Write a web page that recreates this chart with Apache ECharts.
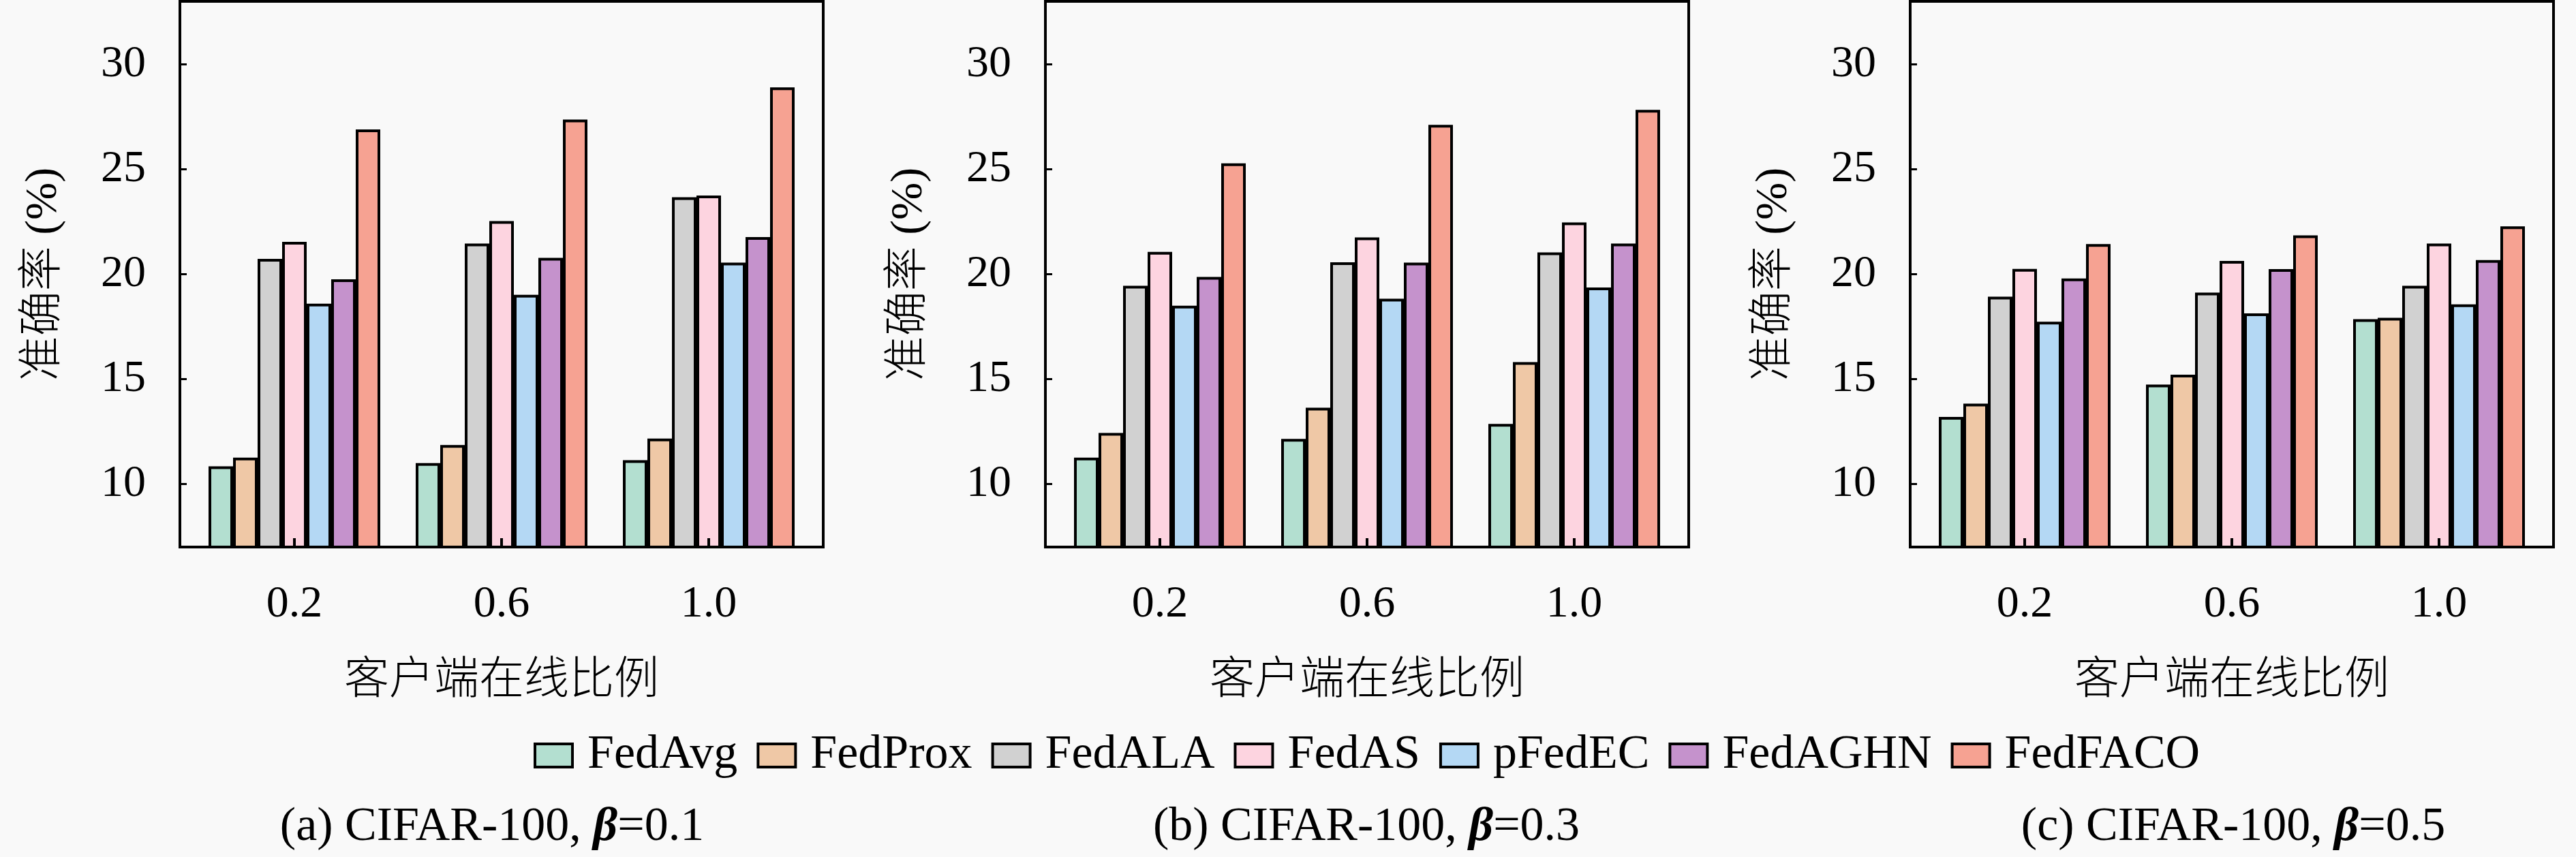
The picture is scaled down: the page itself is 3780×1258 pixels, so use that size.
<!DOCTYPE html>
<html>
<head>
<meta charset="utf-8">
<script src="https://cdn.jsdelivr.net/npm/echarts@6/dist/echarts.min.js"></script>
<style>
html,body{margin:0;padding:0;background:#f9f9f9;}
#chart{width:3780px;height:1258px;}
</style>
</head>
<body>
<div id="chart"></div>
<script>
// ---------- data ----------
const categories = ['0.2', '0.6', '1.0'];
const methods = ['FedAvg', 'FedProx', 'FedALA', 'FedAS', 'pFedEC', 'FedAGHN', 'FedFACO'];
const colors = ['#b3dfd0', '#efc8a6', '#d1d1d1', '#fdd4e0', '#b4d8f4', '#c592cc', '#f6a292'];
const yTicks = [10, 15, 20, 25, 30];
const yMin = 7, yMax = 33;

// (a) CIFAR-100, beta = 0.1
const a_FedAvg  = [10.85, 11.00, 11.14];
const a_FedProx = [11.26, 11.86, 12.17];
const a_FedALA  = [20.73, 21.46, 23.67];
const a_FedAS   = [21.54, 22.53, 23.75];
const a_pFedEC  = [18.60, 19.02, 20.55];
const a_FedAGHN = [19.76, 20.78, 21.77];
const a_FedFACO = [26.90, 27.37, 28.90];

// (b) CIFAR-100, beta = 0.3
const b_FedAvg  = [11.26, 12.15, 12.87];
const b_FedProx = [12.44, 13.64, 15.81];
const b_FedALA  = [19.45, 20.57, 21.04];
const b_FedAS   = [21.06, 21.75, 22.47];
const b_pFedEC  = [18.50, 18.83, 19.37];
const b_FedAGHN = [19.87, 20.55, 21.46];
const b_FedFACO = [25.28, 27.12, 27.83];

// (c) CIFAR-100, beta = 0.5
const c_FedAvg  = [13.20, 14.74, 17.86];
const c_FedProx = [13.83, 15.21, 17.92];
const c_FedALA  = [18.93, 19.12, 19.45];
const c_FedAS   = [20.25, 20.63, 21.46];
const c_pFedEC  = [17.74, 18.13, 18.56];
const c_FedAGHN = [19.80, 20.24, 20.67];
const c_FedFACO = [21.44, 21.85, 22.28];

const panelData = [
  [a_FedAvg, a_FedProx, a_FedALA, a_FedAS, a_pFedEC, a_FedAGHN, a_FedFACO],
  [b_FedAvg, b_FedProx, b_FedALA, b_FedAS, b_pFedEC, b_FedAGHN, b_FedFACO],
  [c_FedAvg, c_FedProx, c_FedALA, c_FedAS, c_pFedEC, c_FedAGHN, c_FedFACO]
];
const captionPrefix = ['(a) CIFAR-100, ', '(b) CIFAR-100, ', '(c) CIFAR-100, '];
const betaValues = ['0.1', '0.3', '0.5'];
const yName = '准确率 (%)';
const xName = '客户端在线比例';

// ---------- layout ----------
const frameLeft = [264, 1534, 2803];
const frameW = 944, frameTop = 2, frameH = 801;
const innerPad = 16;
const captionX = [722, 2005, 3277];
const serif = 'Liberation Serif';
const mixed = "'Liberation Serif', 'Noto Sans CJK SC'";

const grid = [], xAxis = [], yAxis = [], series = [], graphic = [];
for (let p = 0; p < 3; p++) {
  // frame grid
  grid.push({left: frameLeft[p], top: frameTop, width: frameW, height: frameH,
    show: true, borderColor: '#000', borderWidth: 4, backgroundColor: 'transparent', containLabel: false});
  // bar grid
  grid.push({left: frameLeft[p] + innerPad, top: frameTop, width: frameW - 2 * innerPad, height: frameH,
    show: false, containLabel: false});
  xAxis.push({type: 'value', gridIndex: 2 * p, show: false, min: 0, max: 1});
  yAxis.push({type: 'value', gridIndex: 2 * p, min: yMin, max: yMax,
    axisLine: {show: false},
    splitLine: {show: false},
    axisTick: {show: true, inside: true, length: 10, customValues: yTicks, lineStyle: {color: '#000', width: 3}},
    axisLabel: {show: true, customValues: yTicks, margin: 50, fontFamily: serif, fontSize: 66, color: '#000'},
    name: yName, nameLocation: 'middle', nameGap: 166,
    nameTextStyle: {fontFamily: mixed, fontSize: 66, color: '#000', fontWeight: 300}
  });
  xAxis.push({type: 'category', gridIndex: 2 * p + 1, data: categories, z: 10,
    axisLine: {show: false},
    axisTick: {show: true, inside: true, alignWithLabel: true, length: 13, lineStyle: {color: '#000', width: 4}},
    axisLabel: {margin: 52, fontFamily: serif, fontSize: 66, color: '#000'},
    name: xName, nameLocation: 'middle', nameGap: 165,
    nameTextStyle: {fontFamily: mixed, fontSize: 66, color: '#000', fontWeight: 300}
  });
  yAxis.push({type: 'value', gridIndex: 2 * p + 1, min: yMin, max: yMax, show: false});
  for (let m = 0; m < methods.length; m++) {
    series.push({
      type: 'bar', name: methods[m],
      xAxisIndex: 2 * p + 1, yAxisIndex: 2 * p + 1,
      data: panelData[p][m],
      barWidth: 36, barGap: '0%',
      itemStyle: {color: colors[m], borderColor: '#000', borderWidth: 4},
      emphasis: {disabled: true}, animation: false
    });
  }
  graphic.push({
    type: 'text', x: captionX[p], y: 1215,
    style: {
      text: captionPrefix[p] + '{b|β}=' + betaValues[p],
      fontFamily: serif, fontSize: 70, fill: '#000',
      align: 'center', verticalAlign: 'middle',
      rich: {b: {fontFamily: serif, fontSize: 70, fontStyle: 'italic', fontWeight: 'bold', fill: '#000'}}
    }
  });
}

const chart = echarts.init(document.getElementById('chart'), null, {renderer: 'canvas'});
chart.setOption({
  backgroundColor: '#f9f9f9',
  animation: false,
  grid, xAxis, yAxis, series, graphic,
  legend: {
    data: methods, left: 778, top: 1069,
    icon: 'rect', itemWidth: 55, itemHeight: 34, itemGap: 28,
    itemStyle: {borderColor: '#000', borderWidth: 4},
    textStyle: {fontFamily: serif, fontSize: 70, color: '#000', padding: [0, 0, 0, 17]}
  }
});
</script>
</body>
</html>
